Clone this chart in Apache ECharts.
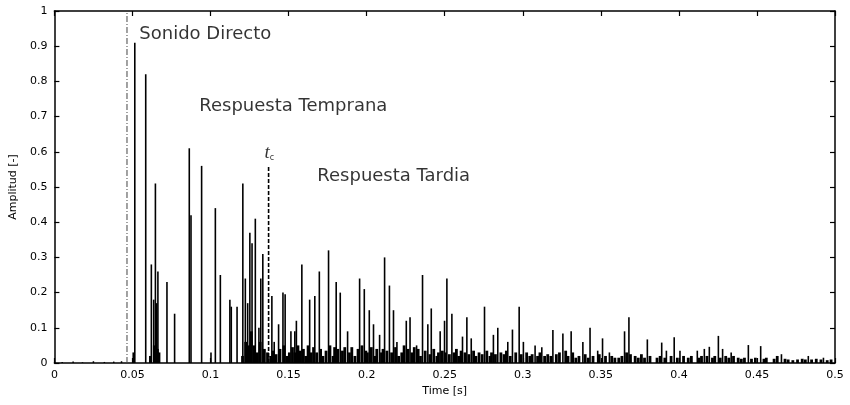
<!DOCTYPE html>
<html>
<head>
<meta charset="utf-8">
<script src="https://cdn.jsdelivr.net/npm/echarts/dist/echarts.min.js"></script>
<style>
  html, body { margin: 0; padding: 0; background: #fff; }
  #chart { width: 850px; height: 405px; }
</style>
</head>
<body>
<div id="chart"></div>
<script>
// Tick labels
const xTickLabels = ['0', '0.05', '0.1', '0.15', '0.2', '0.25', '0.3', '0.35', '0.4', '0.45', '0.5'];
const yTickLabels = ['0', '0.1', '0.2', '0.3', '0.4', '0.5', '0.6', '0.7', '0.8', '0.9', '1'];

// Onset of the direct sound (full-height marker) and the mixing time t_c [s]
const onsetMarker = [[0.0465, 1]];
const mixingTime = [[0.1372, 0.557]];

// Background noise before the direct sound [time s, amplitude]
const preNoise = [
  [0.005, 0.003], [0.012, 0.004], [0.018, 0.002], [0.025, 0.005],
  [0.032, 0.003], [0.038, 0.004], [0.043, 0.005]
];

// Discrete reflections [time s, amplitude]
const reflections = [
  [0.0505, 0.03], [0.0515, 0.91], [0.0585, 0.82], [0.0621, 0.28], [0.0636, 0.18],
  [0.0647, 0.51], [0.0655, 0.17], [0.0663, 0.26], [0.0721, 0.23], [0.0770, 0.14],
  [0.0864, 0.61], [0.0875, 0.42], [0.0943, 0.56], [0.1003, 0.03], [0.1031, 0.44],
  [0.1063, 0.25], [0.1124, 0.18], [0.1133, 0.16], [0.1170, 0.16], [0.1207, 0.51],
  [0.1223, 0.24], [0.1238, 0.17], [0.1252, 0.37], [0.1266, 0.34], [0.1287, 0.41],
  [0.1310, 0.10], [0.1322, 0.24], [0.1335, 0.31], [0.1393, 0.19], [0.1408, 0.06],
  [0.1436, 0.11], [0.1464, 0.20], [0.1478, 0.195], [0.1515, 0.09], [0.1540, 0.09],
  [0.1550, 0.12], [0.1585, 0.28], [0.1635, 0.18], [0.1668, 0.19], [0.1697, 0.26],
  [0.1756, 0.32], [0.1805, 0.23], [0.1831, 0.20], [0.1878, 0.09], [0.1955, 0.24],
  [0.1985, 0.21], [0.2017, 0.15], [0.2044, 0.11], [0.2083, 0.08], [0.2115, 0.30],
  [0.2146, 0.22], [0.2172, 0.15], [0.2194, 0.06], [0.2254, 0.12], [0.2278, 0.13],
  [0.2320, 0.05], [0.2358, 0.25], [0.2392, 0.11], [0.2414, 0.155], [0.2471, 0.09],
  [0.2499, 0.12], [0.2514, 0.24], [0.2546, 0.14], [0.2614, 0.075], [0.2642, 0.13],
  [0.2670, 0.07], [0.2755, 0.16], [0.2812, 0.08], [0.2840, 0.10], [0.2904, 0.06],
  [0.2934, 0.095], [0.2977, 0.16], [0.3004, 0.06], [0.3079, 0.05], [0.3122, 0.045],
  [0.3193, 0.094], [0.3257, 0.084], [0.3310, 0.09], [0.3385, 0.06], [0.3431, 0.10],
  [0.3480, 0.035], [0.3511, 0.07], [0.3555, 0.03], [0.3652, 0.09], [0.3680, 0.13],
  [0.3798, 0.067], [0.3890, 0.058], [0.3920, 0.035], [0.3970, 0.073], [0.4007, 0.035],
  [0.4118, 0.035], [0.4163, 0.04], [0.4195, 0.046], [0.4253, 0.077], [0.4280, 0.04],
  [0.4335, 0.03], [0.4445, 0.051], [0.4524, 0.048], [0.4657, 0.025], [0.4829, 0.02],
  [0.4926, 0.015]
];

// Dense diffuse tail [time s, amplitude]
const diffuseTail = [
  [0.0615, 0.02], [0.0640, 0.05], [0.0660, 0.04], [0.0670, 0.03],
  [0.1205, 0.02], [0.1225, 0.06], [0.1245, 0.05], [0.1262, 0.09], [0.1280, 0.05],
  [0.1300, 0.03], [0.1318, 0.06], [0.1345, 0.04], [0.1365, 0.03], [0.1385, 0.02],
  [0.1400, 0.035], [0.1420, 0.025], [0.1445, 0.04], [0.1470, 0.05], [0.1490, 0.02],
  [0.1505, 0.03], [0.1525, 0.045], [0.1540, 0.03], [0.1560, 0.05], [0.1575, 0.035],
  [0.1595, 0.04], [0.1610, 0.02], [0.1625, 0.05], [0.1645, 0.03], [0.1660, 0.045],
  [0.1680, 0.03], [0.1705, 0.04], [0.1720, 0.02], [0.1740, 0.035], [0.1765, 0.05],
  [0.1785, 0.02], [0.1795, 0.045], [0.1815, 0.04], [0.1845, 0.035], [0.1860, 0.045],
  [0.1890, 0.03], [0.1905, 0.045], [0.1925, 0.02], [0.1945, 0.04], [0.1970, 0.05],
  [0.1995, 0.035], [0.2005, 0.03], [0.2030, 0.045], [0.2055, 0.02], [0.2065, 0.04],
  [0.2095, 0.03], [0.2105, 0.04], [0.2130, 0.035], [0.2160, 0.03], [0.2185, 0.045],
  [0.2205, 0.02], [0.2225, 0.03], [0.2240, 0.05], [0.2265, 0.04], [0.2290, 0.03],
  [0.2305, 0.045], [0.2330, 0.04], [0.2345, 0.02], [0.2375, 0.035], [0.2405, 0.025],
  [0.2430, 0.04], [0.2450, 0.02], [0.2460, 0.03], [0.2485, 0.035], [0.2505, 0.03],
  [0.2530, 0.025], [0.2560, 0.03], [0.2575, 0.04], [0.2590, 0.02], [0.2605, 0.035],
  [0.2630, 0.03], [0.2655, 0.025], [0.2685, 0.035], [0.2700, 0.02], [0.2720, 0.03],
  [0.2740, 0.025], [0.2770, 0.035], [0.2790, 0.02], [0.2800, 0.03], [0.2825, 0.025],
  [0.2860, 0.03], [0.2880, 0.025], [0.2895, 0.035], [0.2920, 0.02], [0.2955, 0.03],
  [0.2990, 0.025], [0.3025, 0.03], [0.3045, 0.02], [0.3060, 0.025], [0.3095, 0.02],
  [0.3110, 0.03], [0.3140, 0.02], [0.3160, 0.025], [0.3180, 0.02], [0.3215, 0.025],
  [0.3235, 0.03], [0.3275, 0.035], [0.3290, 0.02], [0.3320, 0.03], [0.3340, 0.015],
  [0.3360, 0.02], [0.3400, 0.025], [0.3420, 0.015], [0.3450, 0.02], [0.3490, 0.025],
  [0.3530, 0.02], [0.3570, 0.02], [0.3590, 0.015], [0.3615, 0.015], [0.3635, 0.02],
  [0.3665, 0.03], [0.3690, 0.025], [0.3720, 0.02], [0.3740, 0.015], [0.3760, 0.025],
  [0.3780, 0.015], [0.3815, 0.02], [0.3860, 0.015], [0.3880, 0.02], [0.3910, 0.015],
  [0.3950, 0.02], [0.3990, 0.015], [0.4030, 0.02], [0.4060, 0.015], [0.4080, 0.02],
  [0.4130, 0.015], [0.4145, 0.02], [0.4180, 0.02], [0.4215, 0.015], [0.4230, 0.02],
  [0.4265, 0.015], [0.4300, 0.02], [0.4320, 0.015], [0.4350, 0.02], [0.4380, 0.015],
  [0.4400, 0.012], [0.4420, 0.015], [0.4465, 0.012], [0.4490, 0.015], [0.4545, 0.012],
  [0.4560, 0.015], [0.4610, 0.012], [0.4630, 0.02], [0.4680, 0.012], [0.4700, 0.01],
  [0.4730, 0.008], [0.4760, 0.01], [0.4790, 0.012], [0.4810, 0.01], [0.4850, 0.01],
  [0.4880, 0.012], [0.4910, 0.01], [0.4950, 0.008], [0.4975, 0.01]
];

// Region annotations anchored in data space [time s, amplitude, text]
const annotations = [
  [0.0544, 0.933, 'Sonido Directo'],
  [0.0928, 0.730, 'Respuesta Temprana'],
  [0.1684, 0.531, 'Respuesta Tardia']
];
const tcLabelPos = [[0.1345, 0.598]];

const FONT = 'DejaVu Sans';

// Vertical stem from the zero line up to each sample's amplitude
function stems(width, dash, color) {
  return function (params, api) {
    const t = api.value(0);
    const a = api.value(1);
    const p0 = api.coord([t, 0]);
    const p1 = api.coord([t, a]);
    return {
      type: 'line',
      shape: { x1: p0[0], y1: p0[1], x2: p1[0], y2: p1[1] },
      style: { stroke: color || '#000', lineWidth: width, lineDash: dash || null }
    };
  };
}

const axisCommon = {
  type: 'value',
  splitLine: { show: false },
  axisLine: { show: true, onZero: false, lineStyle: { color: '#000', width: 1.5 } },
  axisTick: { show: true, inside: true, length: 5, lineStyle: { color: '#000', width: 1.2 } }
};

const chart = echarts.init(document.getElementById('chart'), null, { renderer: 'canvas' });

chart.setOption({
  animation: false,
  backgroundColor: '#fff',
  grid: { left: 54, right: 15, top: 11, bottom: 42, containLabel: false },
  xAxis: [
    Object.assign({}, axisCommon, {
      position: 'bottom', min: 0, max: 0.5, interval: 0.05,
      name: 'Time [s]', nameLocation: 'middle', nameGap: 21,
      nameTextStyle: { fontFamily: FONT, fontSize: 11, color: '#000' },
      axisLabel: {
        margin: 7, fontFamily: FONT, fontSize: 11, color: '#000',
        formatter: (v, i) => xTickLabels[i]
      }
    }),
    Object.assign({}, axisCommon, {
      position: 'top', min: 0, max: 0.5, interval: 0.05,
      axisLabel: { show: false }
    })
  ],
  yAxis: [
    Object.assign({}, axisCommon, {
      position: 'left', min: 0, max: 1, interval: 0.1,
      name: 'Amplitud [-]', nameLocation: 'middle', nameGap: 31,
      nameTextStyle: { fontFamily: FONT, fontSize: 11, color: '#000' },
      axisLabel: {
        margin: 7, fontFamily: FONT, fontSize: 11, color: '#000',
        formatter: (v, i) => yTickLabels[i]
      }
    }),
    Object.assign({}, axisCommon, {
      position: 'right', min: 0, max: 1, interval: 0.1,
      axisLabel: { show: false }
    })
  ],
  series: [
    {
      name: 'inicio', type: 'custom', renderItem: stems(1, [6, 2, 1, 2], '#444'),
      data: onsetMarker, silent: true
    },
    {
      name: 'ruido', type: 'custom', renderItem: stems(1.5),
      data: preNoise, clip: true, silent: true
    },
    {
      name: 'cola difusa', type: 'custom', renderItem: stems(2.8),
      data: diffuseTail, clip: true, silent: true
    },
    {
      name: 'reflexiones', type: 'custom', renderItem: stems(1.6),
      data: reflections, clip: true, silent: true
    },
    {
      name: 'tc', type: 'custom', renderItem: stems(1.6, [4, 2]),
      data: mixingTime, silent: true
    },
    {
      name: 'tc label', type: 'scatter', symbolSize: 0, silent: true,
      data: tcLabelPos,
      label: {
        show: true, position: 'right', distance: 0,
        formatter: '{t|t}{c|c}',
        rich: {
          t: { fontFamily: 'Liberation Serif', fontStyle: 'italic', fontSize: 19, color: '#000' },
          c: { fontFamily: FONT, fontSize: 8, color: '#000', verticalAlign: 'bottom', padding: [9, 0, 0, 0] }
        }
      }
    },
    {
      name: 'regiones', type: 'scatter', symbolSize: 0, silent: true,
      data: annotations,
      label: {
        show: true, position: 'right', distance: 0,
        fontFamily: FONT, fontSize: 18, color: '#000',
        formatter: p => p.data[2]
      }
    }
  ]
});
</script>
</body>
</html>
